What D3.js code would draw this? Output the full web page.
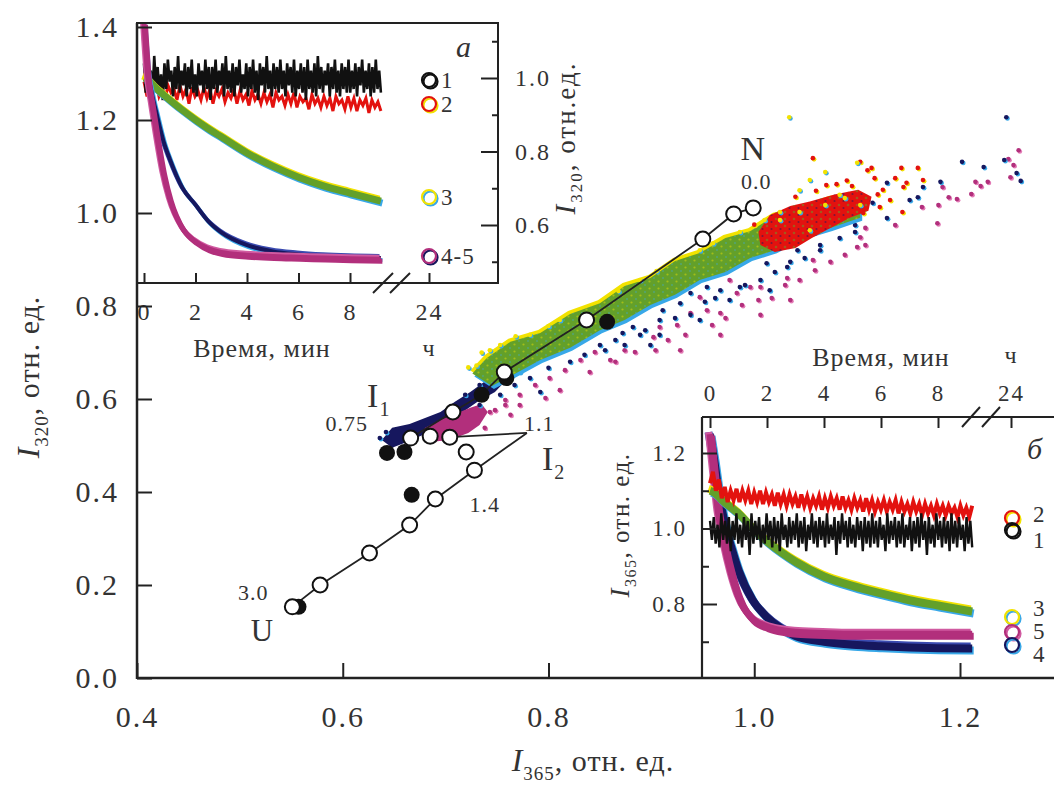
<!DOCTYPE html>
<html lang="ru">
<head>
<meta charset="UTF-8">
<title>I320 vs I365</title>
<script src="https://d3js.org/d3.v7.min.js"></script>
<style>
  body { margin: 0; background: #fff; }
  svg text { font-family: "Liberation Serif", "DejaVu Serif", serif; fill: #333; letter-spacing: 1px; }
  svg .tick text { letter-spacing: 2px; }
</style>
</head>
<body>
<svg id="chart" width="1054" height="787"></svg>
<script>
// ---------- main plot data (I365, I320) ----------
var mainXTicks = [0.4, 0.6, 0.8, 1.0, 1.2];
var mainYTicks = [0.0, 0.2, 0.4, 0.6, 0.8, 1.0, 1.2, 1.4];

var openPts = [[0.999,1.011],[0.980,0.998],[0.950,0.944],[0.837,0.770],[0.757,0.658],[0.707,0.572],[0.666,0.516],
  [0.685,0.520],[0.704,0.518],[0.720,0.486],[0.728,0.447],[0.690,0.385],[0.665,0.329],[0.626,0.269],[0.578,0.200],[0.551,0.153]];
var filledPts = [[0.857,0.766],[0.759,0.645],[0.735,0.609],[0.643,0.484],[0.660,0.486],[0.667,0.394],[0.557,0.153]];
var nLine = [[0.999,1.011],[0.980,0.998],[0.950,0.944],[0.837,0.770],[0.757,0.658],[0.735,0.609],[0.707,0.572],[0.666,0.516]];
var uLine = [[0.779,0.527],[0.728,0.447],[0.690,0.385],[0.665,0.329],[0.626,0.269],[0.578,0.200],[0.551,0.153]];
var i2Pointer = [[0.779,0.527],[0.704,0.518]];

// dense parts of the clouds (outlines)
var greenBand = [[0.726,0.655],[0.740,0.688],[0.763,0.723],[0.792,0.742],[0.821,0.783],[0.850,0.806],[0.874,0.843],[0.899,0.860],[0.923,0.897],
  [0.947,0.914],[0.972,0.946],[0.996,0.961],[1.020,0.994],[1.044,1.006],[1.074,1.030],[1.103,1.040],
  [1.103,0.990],[1.074,0.968],[1.044,0.948],[1.020,0.920],[0.996,0.903],[0.972,0.873],[0.947,0.856],[0.923,0.824],
  [0.899,0.802],[0.874,0.770],[0.850,0.748],[0.821,0.710],[0.792,0.684],[0.763,0.649],[0.745,0.628]];
var redBlob = [[1.004,0.959],[1.015,0.995],[1.035,1.015],[1.054,1.025],[1.078,1.040],[1.101,1.050],[1.114,1.035],[1.111,1.005],
  [1.093,0.990],[1.074,0.968],[1.056,0.946],[1.040,0.925],[1.020,0.916],[1.006,0.931]];
var navyBlob = [[0.638,0.512],[0.648,0.538],[0.665,0.546],[0.680,0.559],[0.695,0.572],[0.709,0.594],[0.724,0.615],[0.740,0.641],
  [0.753,0.654],[0.759,0.641],[0.748,0.615],[0.731,0.594],[0.714,0.568],[0.696,0.546],[0.680,0.525],[0.663,0.508],[0.648,0.495]];
var magentaBlob = [[0.680,0.538],[0.695,0.555],[0.709,0.568],[0.724,0.581],[0.735,0.589],[0.741,0.572],[0.733,0.544],
  [0.722,0.527],[0.704,0.512],[0.687,0.508],[0.677,0.518]];

// sparse dots
var greenDots = [[0.743,0.705],[0.753,0.716],[0.782,0.738],[0.811,0.770],[0.889,0.856],[0.947,0.920],[0.986,0.959],[1.025,1.002],
  [1.044,1.049],[1.069,1.088],[1.100,1.108],[1.034,1.206],[1.054,1.071],[1.083,1.039],[1.103,1.017],[0.730,0.672],[0.868,0.832],
  [1.025,0.985],[1.044,1.002],[1.069,1.017],[1.088,1.032],[1.054,0.963],[1.010,0.985],[0.960,0.935],[0.905,0.875],
  [0.722,0.668],[0.735,0.700],[0.768,0.735],[0.800,0.757]];
var redDots = [[1.110,1.092],[1.114,1.097],[1.117,1.075],[1.137,1.075],[1.143,1.097],[1.145,1.056],[1.148,1.065],[1.159,1.097],
  [1.164,1.071],[1.132,1.028],[1.122,1.013],[1.144,1.002],[1.106,1.000],[1.057,1.118],[1.103,1.110],[1.125,1.050],
  [1.120,1.040],[1.090,1.070],[1.070,1.060],[1.000,0.975],[1.080,1.062],[1.060,1.048],[1.040,1.035],[1.095,1.058]];
var navyDots = [[1.245,1.206],[1.243,1.114],[1.255,1.086],[1.259,1.069],[1.202,1.110],[1.223,1.099],[1.181,1.067],[1.164,1.056],
  [1.129,1.065],[1.151,1.028],[1.129,0.989],[1.159,1.034],[1.115,1.022],
  [0.986,0.841],[0.967,0.834],[1.012,0.892],[1.042,0.920],[0.928,0.806],[0.911,0.791],[0.896,0.819],[0.879,0.785],[0.867,0.791],
  [0.938,0.828],[0.954,0.841],[1.032,0.884],[1.064,0.920],[0.882,0.755],[0.872,0.742],
  [0.767,0.630],[0.782,0.645],[0.800,0.667],[0.821,0.680],[0.850,0.716],[0.865,0.727],[0.835,0.695],[0.792,0.615],[0.753,0.609],
  [0.733,0.587],[0.889,0.738],[0.908,0.770],
  [0.855,0.705],[0.874,0.716],[0.894,0.748],[0.908,0.738],[0.923,0.774],[0.938,0.781],[0.952,0.809],[0.962,0.817],[0.976,0.813],
  [0.991,0.845],[1.006,0.856],[1.020,0.873],[1.035,0.895],[1.049,0.903],[1.064,0.931],[1.083,0.946],[1.098,0.959],[0.947,0.770],
  [0.899,0.716],[1.015,0.834],[0.642,0.529],[0.636,0.516],[0.733,0.630],[0.719,0.609],[0.772,0.658],
  [1.035,0.946],[1.044,0.963],[1.062,0.974],[1.083,0.996],[1.098,0.974]];
var magentaDots = [[1.257,1.135],[1.247,1.116],[1.252,1.103],[1.249,1.077],[1.227,1.067],[1.220,1.058],[1.215,1.067],[1.211,1.041],
  [1.197,1.030],[1.189,1.034],[1.183,1.056],[1.179,1.017],[1.178,0.978],[1.163,1.013],[1.137,0.974],[1.108,0.968],[1.103,0.948],
  [1.032,0.860],[1.006,0.841],[0.996,0.841],[0.983,0.828],[0.967,0.785],[0.954,0.791],[0.938,0.785],[0.925,0.759],[0.908,0.755],
  [0.902,0.733],[0.947,0.819],[0.976,0.856],[1.057,0.899],[1.100,0.927],
  [0.772,0.609],[0.787,0.630],[0.801,0.645],[0.816,0.662],[0.831,0.684],[0.845,0.701],[0.797,0.602],[0.811,0.619],[0.840,0.658],
  [0.860,0.684],[0.874,0.705],[0.758,0.587],[0.743,0.572],
  [0.865,0.680],[0.884,0.701],[0.904,0.705],[0.916,0.727],[0.933,0.738],[0.959,0.759],[0.972,0.774],[0.988,0.802],[1.004,0.813],
  [1.017,0.817],[1.030,0.845],[1.044,0.856],[1.059,0.877],[1.074,0.895],[1.088,0.910],[1.108,0.931],[0.928,0.705],[0.967,0.738],
  [1.006,0.781],[1.035,0.813],[0.748,0.576],[0.758,0.598],[0.772,0.587],[0.724,0.555],[0.738,0.538],[0.651,0.512],[0.763,0.566]];

// ---------- inset a: I320 vs time ----------
var timeTicks = [0, 2, 4, 6, 8];
var hourTick = ['24'];
var insetTime = [0, 0.15, 0.3, 0.5, 0.75, 1, 1.5, 2, 2.5, 3, 4, 5, 6, 7, 8, 9.2];
var a3 = [1.0, 0.995, 0.985, 0.97, 0.955, 0.94, 0.912, 0.886, 0.862, 0.84, 0.796, 0.76, 0.73, 0.706, 0.687, 0.665];
var a4 = [1.15, 1.02, 0.96, 0.9, 0.83, 0.78, 0.70, 0.655, 0.61, 0.58, 0.545, 0.528, 0.52, 0.515, 0.512, 0.51];
var a5 = [1.15, 1.0, 0.93, 0.84, 0.74, 0.67, 0.59, 0.555, 0.535, 0.525, 0.518, 0.514, 0.512, 0.51, 0.508, 0.507];
var a1 = [1.04,0.96,1.05,0.97,1.02,0.95,1.06,0.98,1.03,0.96,1.01,0.94,1.04,0.97,1.05,0.99,1.02,0.95,1.03,0.97,
  1.06,0.96,1.02,0.98,1.04,0.95,1.03,0.97,1.05,0.96,1.01,0.95,1.04,0.98,1.02,0.96,1.05,0.97,1.03,0.94,
  1.03,0.97,1.05,0.96,1.02,0.98,1.04,0.95,1.06,0.97,1.02,0.96,1.04,0.95,1.03,0.98,1.05,0.96,1.01,0.97,
  1.04,0.95,1.03,0.97,1.05,0.96,1.02,0.94,1.04,0.98,1.03,0.96,1.06,0.97,1.02,0.95,1.04,0.97,1.03,0.96,
  1.05,0.97,1.02,0.95,1.04,0.98,1.03,0.96,1.05,0.95,1.02,0.97,1.04,0.96,1.03,0.94,1.05,0.97,1.02,0.96,
  1.04,0.95,1.06,0.97,1.03,0.96,1.02,0.98,1.04,0.95,1.03,0.97,1.05,0.96,1.02,0.95,1.04,0.97,1.03,0.96,
  1.05,0.96,1.02,0.97,1.04,0.95,1.03,0.98,1.05,0.96,1.02,0.97,1.04,0.95,1.03,0.96,1.05,0.97,1.02,0.96];
var a2 = [0.99,0.95,0.98,0.96,0.99,0.95,0.97,0.94,0.98,0.96,0.97,0.94,0.98,0.95,0.97,0.93,0.975,0.95,0.965,0.94,
  0.975,0.945,0.97,0.93,0.965,0.95,0.97,0.935,0.96,0.945,0.97,0.93,0.965,0.94,0.955,0.925,0.965,0.94,0.955,0.93,
  0.96,0.935,0.955,0.92,0.96,0.94,0.95,0.925,0.955,0.93,0.96,0.92,0.95,0.935,0.945,0.915,0.955,0.93,0.945,0.92,
  0.95,0.925,0.945,0.91,0.95,0.93,0.94,0.915,0.95,0.92,0.945,0.91,0.94,0.925,0.945,0.905,0.94,0.92,0.935,0.91];
var aRightTicks = [0.6, 0.8, 1.0];
var aRightMinor = [0.5, 0.7, 0.9, 1.1];

// ---------- inset b: I365 vs time ----------
var b3 = [1.10, 1.095, 1.085, 1.07, 1.055, 1.04, 1.0, 0.966, 0.937, 0.912, 0.873, 0.848, 0.828, 0.81, 0.796, 0.78];
var b4 = [1.25, 1.18, 1.10, 1.02, 0.95, 0.89, 0.81, 0.765, 0.735, 0.715, 0.70, 0.692, 0.688, 0.685, 0.683, 0.682];
var b5 = [1.25, 1.14, 1.04, 0.96, 0.88, 0.82, 0.76, 0.74, 0.73, 0.725, 0.722, 0.72, 0.72, 0.72, 0.72, 0.72];
var b1 = [1.02,0.97,1.03,0.96,1.01,0.95,1.04,0.97,1.02,0.96,1.03,0.94,1.02,0.97,1.04,0.96,1.01,0.95,1.03,0.97,
  1.02,0.93,1.04,0.96,1.02,0.97,1.03,0.95,1.01,0.96,1.04,0.97,1.02,0.95,1.03,0.96,1.02,0.94,1.04,0.97,
  1.01,0.95,1.03,0.96,1.02,0.97,1.04,0.95,1.02,0.96,1.03,0.94,1.01,0.97,1.04,0.96,1.02,0.95,1.03,0.97,
  1.02,0.95,1.04,0.96,1.01,0.97,1.03,0.93,1.02,0.96,1.04,0.97,1.02,0.95,1.03,0.96,1.01,0.95,1.03,0.97,
  1.02,0.94,1.03,0.96,1.02,0.95,1.04,0.96,1.02,0.95,1.03,0.97,1.01,0.94,1.04,0.96,1.02,0.97,1.03,0.95,
  1.02,0.96,1.04,0.95,1.01,0.97,1.03,0.94,1.02,0.96,1.03,0.95,1.04,0.97,1.02,0.93,1.03,0.96,1.01,0.95,
  1.04,0.97,1.02,0.95,1.03,0.96,1.02,0.94,1.04,0.96,1.02,0.95,1.03,0.97,1.01,0.94,1.03,0.96,1.02,0.95];
var b2 = [1.12,1.15,1.10,1.13,1.08,1.11,1.07,1.10,1.075,1.105,1.07,1.10,1.075,1.10,1.065,1.095,1.07,1.10,1.065,1.095,
  1.07,1.09,1.06,1.095,1.065,1.09,1.06,1.09,1.065,1.085,1.055,1.09,1.06,1.085,1.055,1.08,1.06,1.085,1.05,1.08,
  1.055,1.085,1.06,1.08,1.05,1.085,1.055,1.075,1.05,1.08,1.055,1.075,1.045,1.08,1.05,1.075,1.045,1.07,1.05,1.075,
  1.045,1.07,1.05,1.075,1.04,1.07,1.045,1.065,1.04,1.07,1.045,1.065,1.035,1.065,1.04,1.06,1.035,1.065,1.04,1.06,
  1.035,1.06,1.04,1.055,1.03,1.06,1.035,1.055,1.03,1.06];
var bLeftTicks = [0.8, 1.0, 1.2];
var bLeftMinor = [0.7, 0.9, 1.1];

// ---------- drawing ----------
var svg = d3.select('#chart');
var C = { green: '#63a02a', yellow: '#f2e200', blue: '#38a8e8', red: '#e3120f', navy: '#16175e', magenta: '#b22f7c', ink: '#222' };

// speckle textures for the dense parts of the clouds
var defs = svg.append('defs');
var pg = defs.append('pattern').attr('id', 'speckG').attr('width', 9).attr('height', 7).attr('patternUnits', 'userSpaceOnUse');
pg.append('circle').attr('cx', 1.5).attr('cy', 1.5).attr('r', 1.1).attr('fill', C.yellow);
pg.append('circle').attr('cx', 6).attr('cy', 5).attr('r', 0.9).attr('fill', C.blue);
var pr = defs.append('pattern').attr('id', 'speckR').attr('width', 9).attr('height', 7).attr('patternUnits', 'userSpaceOnUse');
pr.append('circle').attr('cx', 2).attr('cy', 2).attr('r', 1.3).attr('fill', C.green);
pr.append('circle').attr('cx', 6.5).attr('cy', 5).attr('r', 1.1).attr('fill', C.navy);

var x = d3.scaleLinear().domain([0.4, 1.2]).range([137, 960]);
var y = d3.scaleLinear().domain([0, 1.4]).range([678, 27]);

function styleAxis(g, size) {
  g.selectAll('text').attr('font-size', size).attr('font-family', null);
  g.selectAll('line').attr('stroke', C.ink).attr('stroke-width', 2);
  g.select('.domain').remove();
}

// clouds
var cloud = svg.append('g');
var area = d3.line().x(d => x(d[0])).y(d => y(d[1])).curve(d3.curveLinearClosed);
function blob(pts, fill, dx, dy, op) {
  cloud.append('path').attr('d', area(pts)).attr('fill', fill).attr('opacity', op || 1)
    .attr('transform', 'translate(' + dx + ',' + dy + ')');
}
function dots(pts, fill, fringe) {
  cloud.append('g').selectAll('circle').data(pts).join('circle')
    .attr('cx', d => x(d[0]) + 1.2).attr('cy', d => y(d[1]) + 1.2).attr('r', 2.3).attr('fill', fringe);
  cloud.append('g').selectAll('circle').data(pts).join('circle')
    .attr('cx', d => x(d[0])).attr('cy', d => y(d[1])).attr('r', 2.3).attr('fill', fill);
}
dots(magentaDots, C.magenta, '#e27ab5');
blob(navyBlob, C.navy, 0, 0);
blob(magentaBlob, C.magenta, 0, 0);
dots(navyDots, C.navy, C.blue);
blob(greenBand, C.yellow, -2, -3);
blob(greenBand, C.blue, 2, 3);
blob(greenBand, C.green, 0, 0);
blob(greenBand, 'url(#speckG)', 0, 0, 0.45);
blob(redBlob, C.red, 0, 0);
blob(redBlob, 'url(#speckR)', 0, 0, 0.5);
dots(redDots, C.red, C.yellow);
dots(greenDots, C.yellow, C.blue);

// lines and circles
var ln = d3.line().x(d => x(d[0])).y(d => y(d[1]));
[nLine, uLine, i2Pointer].forEach(function (l) {
  svg.append('path').attr('d', ln(l)).attr('fill', 'none').attr('stroke', C.ink).attr('stroke-width', 1.8);
});
svg.append('g').selectAll('circle').data(filledPts).join('circle')
  .attr('cx', d => x(d[0])).attr('cy', d => y(d[1])).attr('r', 8).attr('fill', '#111');
svg.append('g').selectAll('circle').data(openPts).join('circle')
  .attr('cx', d => x(d[0])).attr('cy', d => y(d[1])).attr('r', 7.5)
  .attr('fill', '#fff').attr('stroke', '#111').attr('stroke-width', 2);

// ---------- inset a ----------
var xa = d3.scaleLinear().domain([0, 8]).range([144, 350]);
var xaH = d3.scaleOrdinal().domain(hourTick).range([429]);
var ya = d3.scaleLinear().domain([0.6, 1.0]).range([225, 78]);
var insA = svg.append('g');
insA.append('rect').attr('x', 137).attr('y', 23).attr('width', 361).attr('height', 260)
  .attr('fill', '#fff').attr('stroke', C.ink).attr('stroke-width', 2);
insA.append('clipPath').attr('id', 'clipA').append('rect').attr('x', 138).attr('y', 24).attr('width', 359).attr('height', 258);
var curvesA = insA.append('g').attr('clip-path', 'url(#clipA)');

var stepA1 = 9.2 / (a1.length - 1), stepA2 = 9.2 / (a2.length - 1);
var lnA = d3.line().x((d, i) => xa(insetTime[i])).y(d => ya(d)).curve(d3.curveMonotoneX);
function band(g, line, data, main, up, down, w) {
  g.append('path').attr('d', line(data)).attr('fill', 'none').attr('stroke', up).attr('stroke-width', w).attr('transform', 'translate(-1.5,-2)');
  g.append('path').attr('d', line(data)).attr('fill', 'none').attr('stroke', down).attr('stroke-width', w).attr('transform', 'translate(1.5,2)');
  g.append('path').attr('d', line(data)).attr('fill', 'none').attr('stroke', main).attr('stroke-width', w);
}
curvesA.append('path').attr('d', d3.line().x((d, i) => xa(i * stepA2)).y(d => ya(d))(a2))
  .attr('fill', 'none').attr('stroke', C.red).attr('stroke-width', 3);
curvesA.append('path').attr('d', d3.line().x((d, i) => xa(i * stepA1)).y(d => ya(d))(a1))
  .attr('fill', 'none').attr('stroke', '#111').attr('stroke-width', 2.6);
band(curvesA, lnA, a3, C.green, C.yellow, C.blue, 7);
band(curvesA, lnA, a4, C.navy, '#3b4bb0', C.blue, 4);
band(curvesA, lnA, a5, C.magenta, '#d05aa0', C.magenta, 5);

var axA = insA.append('g').attr('transform', 'translate(0,283)')
  .call(d3.axisBottom(xa).tickValues(timeTicks).tickSizeInner(-10).tickSizeOuter(0).tickPadding(20));
styleAxis(axA, 24);
var axAH = insA.append('g').attr('transform', 'translate(0,283)')
  .call(d3.axisBottom(xaH).tickSizeInner(-10).tickSizeOuter(0).tickPadding(20));
styleAxis(axAH, 24);
var axAR = insA.append('g').attr('transform', 'translate(498,0)')
  .call(d3.axisRight(ya).tickValues(aRightTicks).tickSizeInner(-17).tickSizeOuter(0).tickPadding(17).tickFormat(d3.format('.1f')));
styleAxis(axAR, 24);
var axARm = insA.append('g').attr('transform', 'translate(498,0)')
  .call(d3.axisRight(ya).tickValues(aRightMinor).tickSizeInner(-6).tickSizeOuter(0).tickFormat(''));
styleAxis(axARm, 24);
[0, 17].forEach(function (o) {
  insA.append('line').attr('x1', 373 + o).attr('y1', 293).attr('x2', 393 + o).attr('y2', 273)
    .attr('stroke', C.ink).attr('stroke-width', 2);
});
insA.append('text').attr('x', 262).attr('y', 348).attr('dy', '0.35em').attr('text-anchor', 'middle').attr('font-size', 26).text('Время, мин');
insA.append('text').attr('x', 429).attr('y', 348).attr('dy', '0.35em').attr('text-anchor', 'middle').attr('font-size', 24).text('ч');
insA.append('text').attr('x', 464).attr('y', 46).attr('dy', '0.35em').attr('text-anchor', 'middle').attr('font-size', 30)
  .attr('font-style', 'italic').text('а');
var tA = insA.append('text').attr('transform', 'translate(566,138) rotate(-90)').attr('dy', '0.35em')
  .attr('text-anchor', 'middle').attr('font-size', 27).style('letter-spacing', '2px');
tA.append('tspan').attr('font-style', 'italic').attr('font-size', 29).text('I');
tA.append('tspan').attr('font-size', 17).attr('dy', 7).text('320');
tA.append('tspan').attr('dy', -7).text(', отн.ед.');

function legendCircle(g, cx, cy, main, fringe) {
  g.append('circle').attr('cx', cx + 1.5).attr('cy', cy + 1.5).attr('r', 7).attr('fill', 'none').attr('stroke', fringe).attr('stroke-width', 2.2);
  g.append('circle').attr('cx', cx).attr('cy', cy).attr('r', 7).attr('fill', 'none').attr('stroke', main).attr('stroke-width', 2.2);
}
var legA = [['1', 80, '#111', '#111'], ['2', 104, C.red, C.yellow], ['3', 197, C.yellow, C.blue], ['4-5', 256, C.magenta, C.navy]];
legA.forEach(function (d) {
  legendCircle(insA, 429, d[1], d[2], d[3]);
  insA.append('text').attr('x', 441).attr('y', d[1]).attr('dy', '0.35em').attr('font-size', 23).text(d[0]);
});

// ---------- inset b ----------
var xb = d3.scaleLinear().domain([0, 8]).range([710, 938]);
var xbH = d3.scaleOrdinal().domain(hourTick).range([1011]);
var yb = d3.scaleLinear().domain([0.8, 1.2]).range([604, 453]);
var insB = svg.append('g');
insB.append('clipPath').attr('id', 'clipB').append('rect').attr('x', 703).attr('y', 418).attr('width', 351).attr('height', 259);
var curvesB = insB.append('g').attr('clip-path', 'url(#clipB)');
var lnB = d3.line().x((d, i) => xb(insetTime[i])).y(d => yb(d)).curve(d3.curveMonotoneX);
var stepB1 = 9.2 / (b1.length - 1), stepB2 = 9.2 / (b2.length - 1);
band(curvesB, lnB, b4, C.navy, '#3b4bb0', C.blue, 8);
band(curvesB, lnB, b5, C.magenta, '#d05aa0', C.magenta, 7);
band(curvesB, lnB, b3, C.green, C.yellow, C.blue, 8);
curvesB.append('path').attr('d', d3.line().x((d, i) => xb(i * stepB2)).y(d => yb(d))(b2))
  .attr('fill', 'none').attr('stroke', C.red).attr('stroke-width', 4);
curvesB.append('path').attr('d', d3.line().x((d, i) => xb(i * stepB1)).y(d => yb(d))(b1))
  .attr('fill', 'none').attr('stroke', '#111').attr('stroke-width', 2.4);

insB.append('line').attr('x1', 702).attr('y1', 417).attr('x2', 1054).attr('y2', 417).attr('stroke', C.ink).attr('stroke-width', 2.2);
insB.append('line').attr('x1', 702).attr('y1', 417).attr('x2', 702).attr('y2', 678).attr('stroke', C.ink).attr('stroke-width', 2.2);
var axB = insB.append('g').attr('transform', 'translate(0,417)')
  .call(d3.axisTop(xb).tickValues(timeTicks).tickSizeInner(-11).tickSizeOuter(0).tickPadding(16));
styleAxis(axB, 23);
var axBH = insB.append('g').attr('transform', 'translate(0,417)')
  .call(d3.axisTop(xbH).tickSizeInner(-11).tickSizeOuter(0).tickPadding(16));
styleAxis(axBH, 23);
var axBL = insB.append('g').attr('transform', 'translate(702,0)')
  .call(d3.axisLeft(yb).tickValues(bLeftTicks).tickSizeInner(-15).tickSizeOuter(0).tickPadding(15).tickFormat(d3.format('.1f')));
styleAxis(axBL, 23);
var axBLm = insB.append('g').attr('transform', 'translate(702,0)')
  .call(d3.axisLeft(yb).tickValues(bLeftMinor).tickSizeInner(-7).tickSizeOuter(0).tickFormat(''));
styleAxis(axBLm, 23);
[0, 20].forEach(function (o) {
  insB.append('line').attr('x1', 962 + o).attr('y1', 427).attr('x2', 980 + o).attr('y2', 407)
    .attr('stroke', C.ink).attr('stroke-width', 2);
});
insB.append('text').attr('x', 881).attr('y', 357).attr('dy', '0.35em').attr('text-anchor', 'middle').attr('font-size', 26).text('Время, мин');
insB.append('text').attr('x', 1011).attr('y', 355).attr('dy', '0.35em').attr('text-anchor', 'middle').attr('font-size', 24).text('ч');
insB.append('text').attr('x', 1035).attr('y', 448).attr('dy', '0.35em').attr('text-anchor', 'middle').attr('font-size', 30)
  .attr('font-style', 'italic').text('б');
var tB = insB.append('text').attr('transform', 'translate(620,525) rotate(-90)').attr('dy', '0.35em')
  .attr('text-anchor', 'middle').attr('font-size', 25).style('letter-spacing', '1.5px');
tB.append('tspan').attr('font-style', 'italic').attr('font-size', 27).text('I');
tB.append('tspan').attr('font-size', 16).attr('dy', 7).text('365');
tB.append('tspan').attr('dy', -7).text(', отн. ед.');
var legB = [['2', 518, 514, C.red, C.yellow], ['1', 530, 540, '#111', '#111'], ['3', 617, 608, C.yellow, C.blue],
  ['5', 632, 631, C.magenta, '#d05aa0'], ['4', 645, 654, C.navy, C.blue]];
legB.forEach(function (d) {
  legendCircle(insB, 1012, d[1], d[3], d[4]);
  insB.append('text').attr('x', 1033).attr('y', d[2]).attr('dy', '0.35em').attr('font-size', 23).text(d[0]);
});

// ---------- main axes ----------
var gx = svg.append('g').attr('transform', 'translate(0,678)')
  .call(d3.axisBottom(x).tickValues(mainXTicks).tickSizeInner(-15).tickSizeOuter(0).tickPadding(28).tickFormat(d3.format('.1f')));
styleAxis(gx, 30);
var gy = svg.append('g').attr('transform', 'translate(137,0)')
  .call(d3.axisLeft(y).tickValues(mainYTicks).tickSizeInner(-15).tickSizeOuter(0).tickPadding(18).tickFormat(d3.format('.1f')));
styleAxis(gy, 30);
svg.append('line').attr('x1', 137).attr('y1', 678).attr('x2', 1054).attr('y2', 678).attr('stroke', C.ink).attr('stroke-width', 2.5);
svg.append('line').attr('x1', 137).attr('y1', 23).attr('x2', 137).attr('y2', 679).attr('stroke', C.ink).attr('stroke-width', 2.5);

var xt = svg.append('text').attr('x', 593).attr('y', 771).attr('text-anchor', 'middle').attr('font-size', 30);
xt.append('tspan').attr('font-style', 'italic').attr('font-size', 32).text('I');
xt.append('tspan').attr('font-size', 19).attr('dy', 9).text('365');
xt.append('tspan').attr('dy', -9).text(', отн. ед.');
var yt = svg.append('text').attr('transform', 'translate(28,377) rotate(-90)').attr('dy', '0.35em')
  .attr('text-anchor', 'middle').attr('font-size', 30);
yt.append('tspan').attr('font-style', 'italic').attr('font-size', 32).text('I');
yt.append('tspan').attr('font-size', 19).attr('dy', 9).text('320');
yt.append('tspan').attr('dy', -9).text(', отн. ед.');

// annotations on the main plot
function note(px, py, txt, size) {
  return svg.append('text').attr('x', x(px)).attr('y', y(py)).attr('dy', '0.35em').attr('text-anchor', 'middle')
    .attr('font-size', size).text(txt);
}
note(0.999, 1.140, 'N', 34);
note(1.002, 1.068, '0.0', 22);
note(0.604, 0.548, '0.75', 22);
note(0.791, 0.548, '1.1', 22);
note(0.738, 0.373, '1.4', 22);
note(0.513, 0.185, '3.0', 22);
note(0.522, 0.103, 'U', 31);
var i1 = note(0.635, 0.608, 'I', 34);
i1.append('tspan').attr('font-size', 20).attr('dy', 9).text('1');
var i2 = note(0.805, 0.472, 'I', 34);
i2.append('tspan').attr('font-size', 20).attr('dy', 9).text('2');
</script>
</body>
</html>
